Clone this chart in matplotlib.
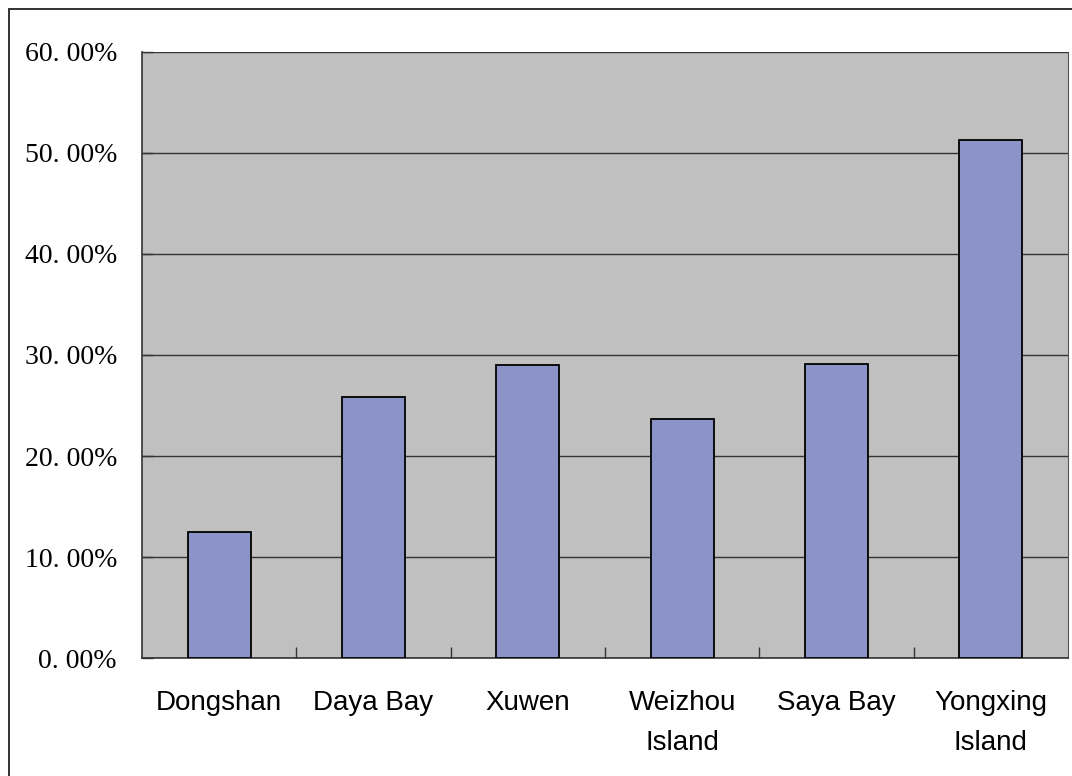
import matplotlib
matplotlib.use("Agg")
import matplotlib.pyplot as plt
from matplotlib.patches import Rectangle
import numpy as np

categories = ["Dongshan", "Daya Bay", "Xuwen", "Weizhou\nIsland", "Saya Bay", "Yongxing\nIsland"]
values = [12.5, 25.8, 29.0, 23.7, 29.1, 51.3]
yticks = [0, 10, 20, 30, 40, 50, 60]
ytick_labels = ["0. 00%", "10. 00%", "20. 00%", "30. 00%", "40. 00%", "50. 00%", "60. 00%"]

fig = plt.figure(figsize=(10.72, 7.76), dpi=100)
fig.patch.set_facecolor("white")
ax = fig.add_axes([142/1072, 1 - 658.3/776, (1068-142)/1072, (658.3-51.7)/776])
ax.set_facecolor("#C0C0C0")

x = np.arange(len(categories))
ax.set_axisbelow(True)
ax.yaxis.grid(True, color="#333333", linewidth=1.0)
ax.bar(x, values, width=0.41, color="#8B93C7", edgecolor="black", linewidth=1.3, zorder=3)

ax.set_xlim(-0.5, len(categories) - 0.5)
ax.set_ylim(0, 60)
ax.set_yticks(yticks)
ax.set_yticklabels(ytick_labels, fontfamily="Liberation Serif", fontsize=20)
ax.set_xticks(x)
ax.set_xticklabels(categories, fontfamily="Liberation Sans", fontsize=20, linespacing=1.7)
ax.tick_params(axis="x", which="major", length=0, pad=23)
ax.set_xticks(np.arange(0.5, len(categories) - 0.5, 1.0), minor=True)
ax.tick_params(axis="x", which="minor", direction="in", length=8, color="#333333", width=1)
ax.tick_params(axis="y", direction="in", length=8, color="#333333", width=1, pad=18)
for t in ax.get_xticklabels():
    t.set_verticalalignment("top")

ax.spines["top"].set_visible(False)
ax.spines["left"].set_color("#333333")
ax.spines["bottom"].set_color("#333333")
ax.spines["right"].set_color("#555555")
ax.spines["left"].set_linewidth(1.2)
ax.spines["bottom"].set_linewidth(1.2)

fig.patches.append(Rectangle((9/1072, -0.05), 1.2, 1 - 9/776 + 0.05, transform=fig.transFigure,
                             fill=False, edgecolor="#222222", linewidth=1.3))

fig.savefig("out.png", dpi=100, facecolor="white")
